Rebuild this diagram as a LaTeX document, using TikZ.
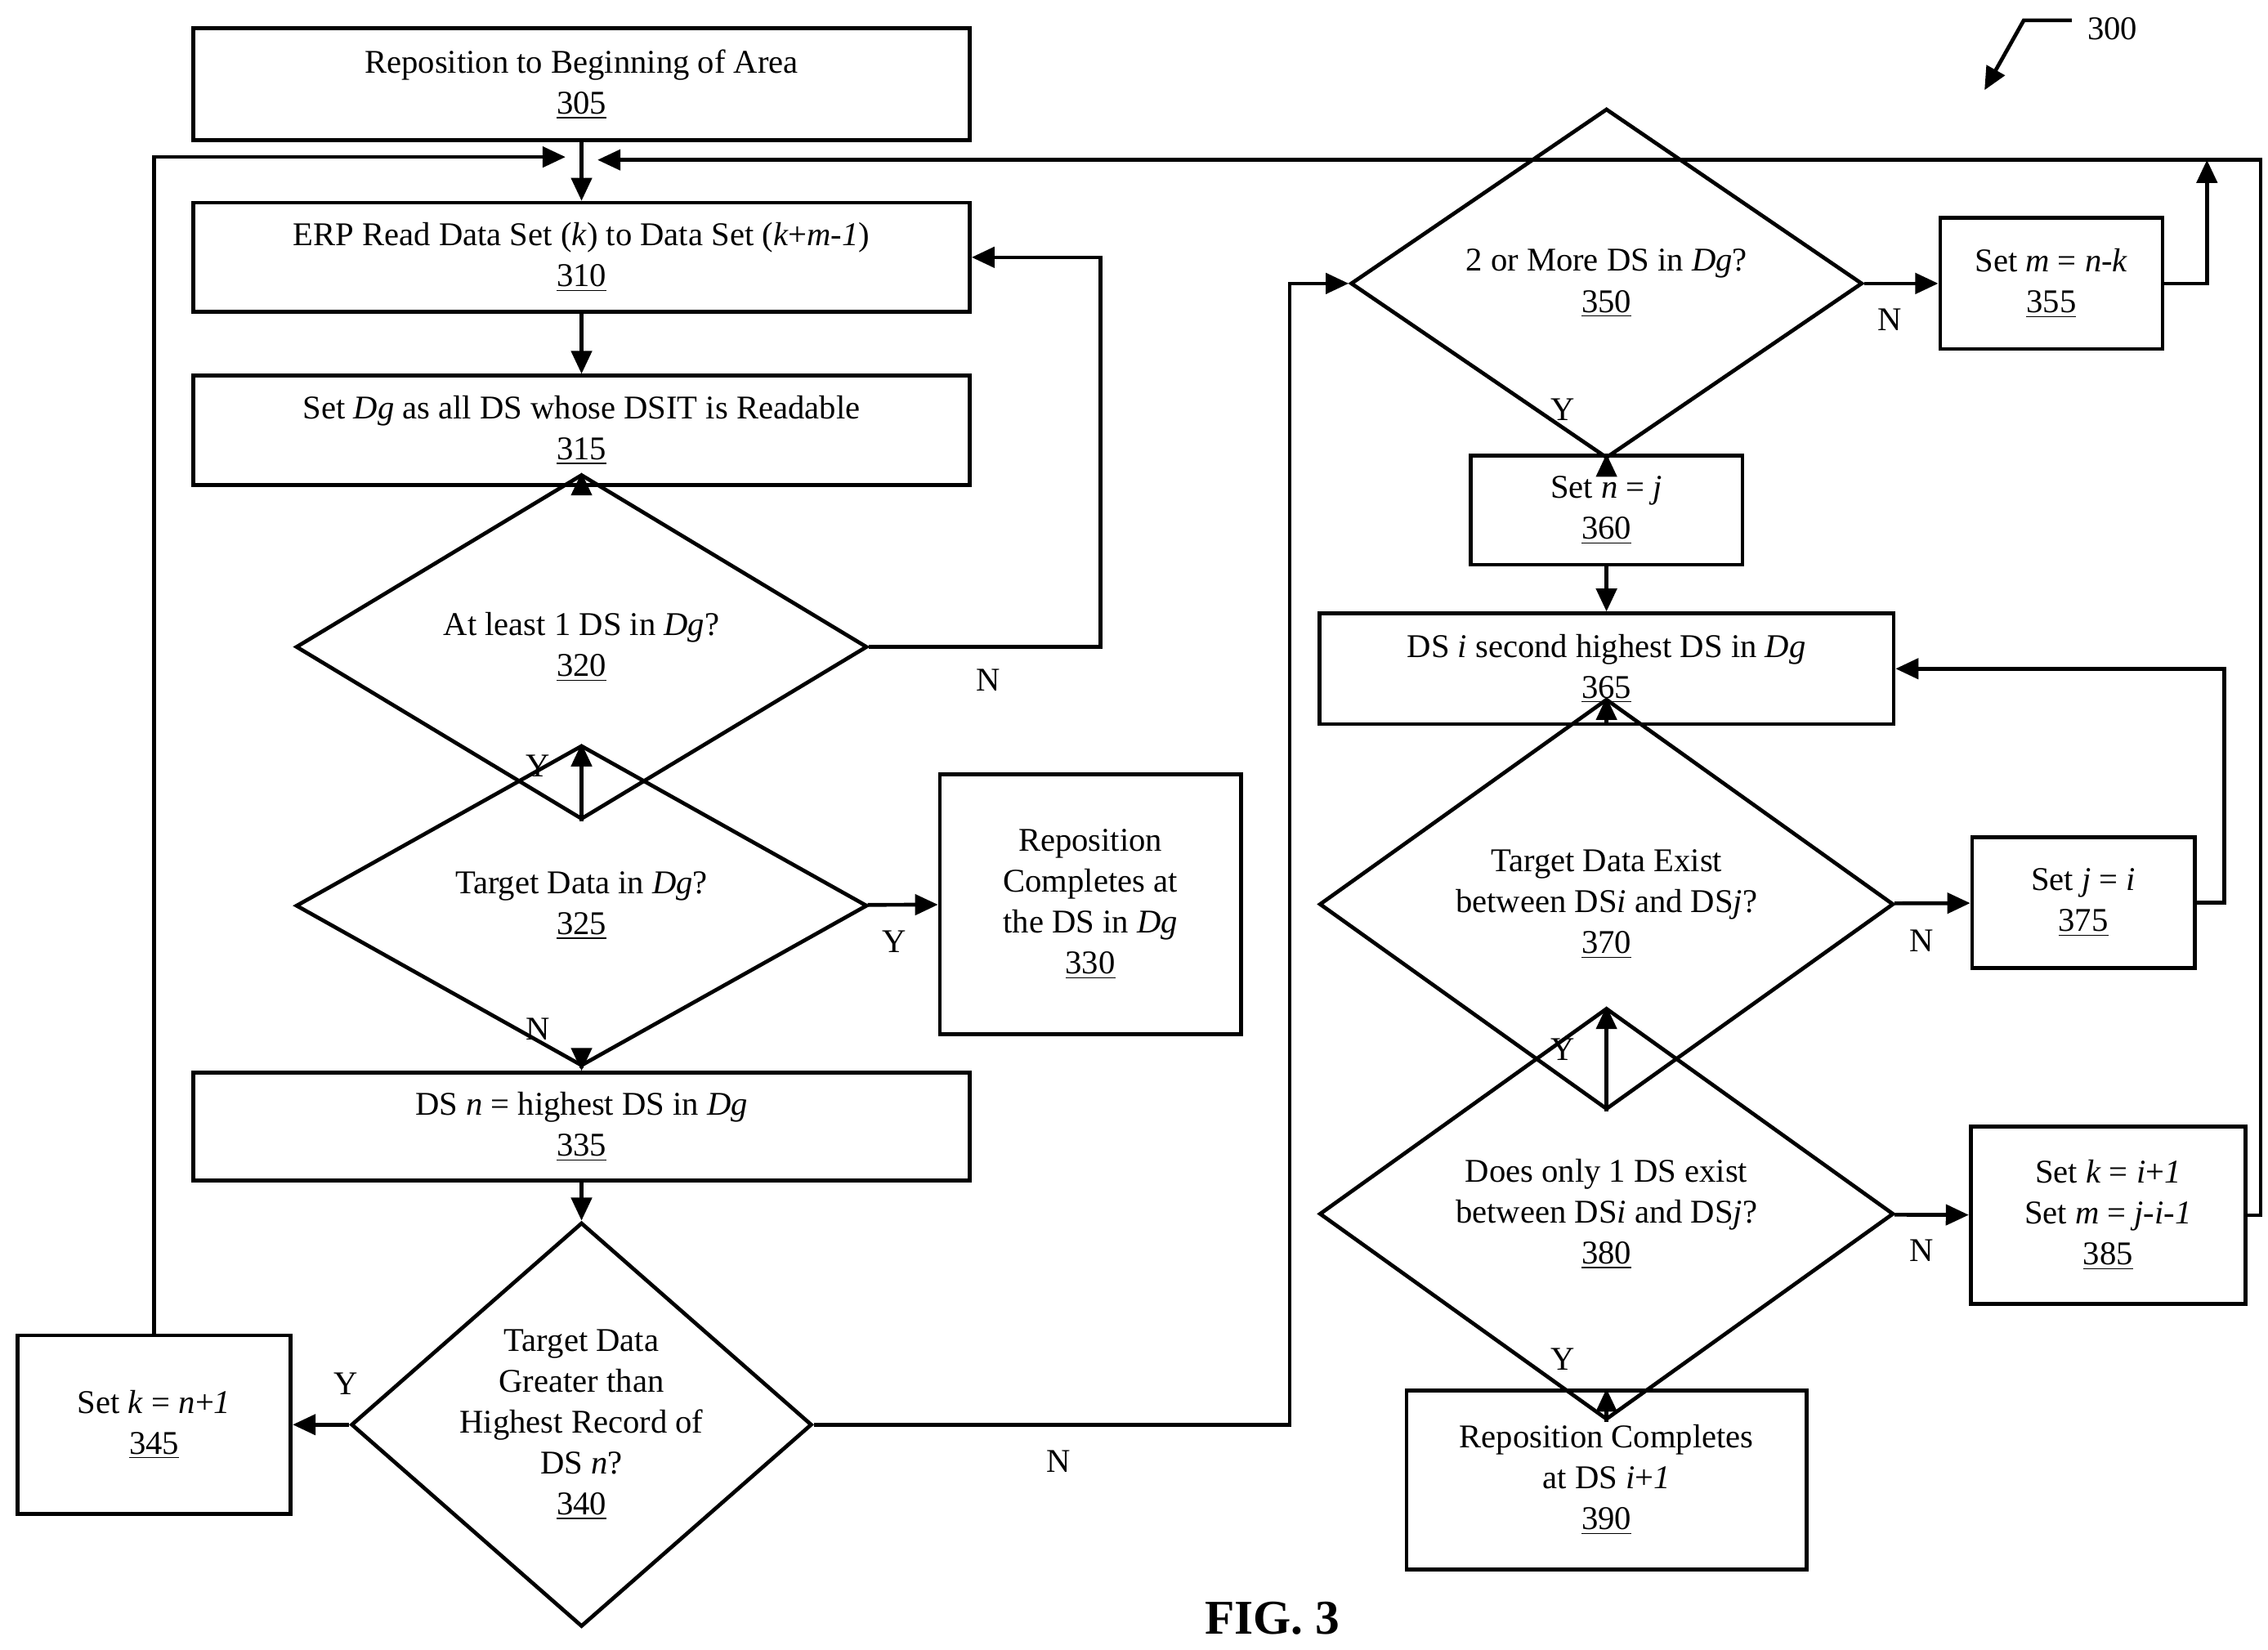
\documentclass[tikz,border=0pt]{standalone}
\usepackage{fontspec}
\setmainfont{Liberation Serif}
\usetikzlibrary{shapes.geometric,arrows.meta}
\newcommand{\num}[1]{\underline{#1}}
\begin{document}
\begin{tikzpicture}[x=0.02cm,y=-0.02cm,line width=1.5pt,>={Triangle[length=9pt,width=8pt]},
    font=\fontsize{13}{16}\selectfont]
    \tikzstyle{box}=[draw,rectangle,align=center,inner sep=0pt]
    \tikzstyle{test}=[draw,diamond,align=center,inner sep=0pt]
    \tikzstyle{lbl}=[inner sep=1pt]

    \useasboundingbox (0,0) rectangle (1560,1135);

    \node[box,minimum width=534*0.02cm,minimum height=77*0.02cm] (S305) at (400,58) {Reposition to Beginning of Area\\\num{305}};
    \node[box,minimum width=534*0.02cm,minimum height=75*0.02cm] (S310) at (400,177) {ERP Read Data Set (\textit{k}) to Data Set (\textit{k}+\textit{m-1})\\\num{310}};
    \node[box,minimum width=534*0.02cm,minimum height=75*0.02cm] (S315) at (400,296) {Set \textit{Dg} as all DS whose DSIT is Readable\\\num{315}};
    \node[test,minimum width=393*0.02cm,minimum height=134*0.02cm] (S320) at (400,445) {At least 1 DS in \textit{Dg}?\\\num{320}};
    \node[test,minimum width=393*0.02cm,minimum height=134*0.02cm] (S325) at (400,623) {Target Data in \textit{Dg}?\\\num{325}};
    \node[box,minimum width=207*0.02cm,minimum height=179*0.02cm] (S330) at (750,622) {Reposition\\Completes at\\the DS in \textit{Dg}\\\num{330}};
    \node[box,minimum width=534*0.02cm,minimum height=74*0.02cm] (S335) at (400,775) {DS \textit{n} = highest DS in \textit{Dg}\\\num{335}};
    \node[test,minimum width=274*0.02cm,minimum height=240*0.02cm,aspect=1.14] (S340) at (400,980) {Target Data\\Greater than\\Highest Record of\\DS \textit{n}?\\\num{340}};
    \node[box,minimum width=188*0.02cm,minimum height=123*0.02cm] (S345) at (106,980) {Set \textit{k} = \textit{n}+\textit{1}\\\num{345}};
    \node[test,minimum width=352*0.02cm,minimum height=134*0.02cm] (S350) at (1105,195) {2 or More DS in \textit{Dg}?\\\num{350}};
    \node[box,minimum width=153*0.02cm,minimum height=90*0.02cm] (S355) at (1411,195) {Set \textit{m} = \textit{n-k}\\\num{355}};
    \node[box,minimum width=187*0.02cm,minimum height=75*0.02cm] (S360) at (1105,351) {Set \textit{n} = \textit{j}\\\num{360}};
    \node[box,minimum width=395*0.02cm,minimum height=76*0.02cm] (S365) at (1105,460) {DS \textit{i} second highest DS in \textit{Dg}\\\num{365}};
    \node[test,minimum width=395*0.02cm,minimum height=179*0.02cm] (S370) at (1105,622) {Target Data Exist\\between DS\textit{i} and DS\textit{j}?\\\num{370}};
    \node[box,minimum width=153*0.02cm,minimum height=90*0.02cm] (S375) at (1433,621) {Set \textit{j} = \textit{i}\\\num{375}};
    \node[test,minimum width=395*0.02cm,minimum height=180*0.02cm] (S380) at (1105,835) {Does only 1 DS exist\\between DS\textit{i} and DS\textit{j}?\\\num{380}};
    \node[box,minimum width=189*0.02cm,minimum height=122*0.02cm] (S385) at (1450,836) {Set \textit{k} = \textit{i}+\textit{1}\\Set \textit{m} = \textit{j-i-1}\\\num{385}};
    \node[box,minimum width=275*0.02cm,minimum height=123*0.02cm] (S390) at (1105,1018) {Reposition Completes\\at DS \textit{i}+\textit{1}\\\num{390}};

    \node[font=\fontsize{19}{22}\selectfont\bfseries] (fig) at (875,1113) {FIG. 3};
    \node[lbl] (ref) at (1453,20) {300};

    % main column
    \draw[->] (S305) -- (S310);
    \draw[->] (S310) -- (S315);
    \draw[->] (S315) -- (S320);
    \draw[->] (S320.east) -- (757,445) -- (757,177) -- (S310.east);
    \draw[->] (S320) -- (S325);
    \draw[->] (S325) -- (S330);
    \draw[->] (S325) -- (S335);
    \draw[->] (S335) -- (S340);
    \draw[->] (S340) -- (S345);
    \draw[->] (S345.north) -- (106,108) -- (389,108);
    \draw[->] (S340.east) -- (887,980) -- (887,195) -- (S350.west);

    % right column
    \draw[->] (S350) -- (S355);
    \draw[->] (S355.east) -- (1518,195) -- (1518,110);
    \draw[->] (S385.east) -- (1555,836) -- (1555,110) -- (411,110);
    \draw[->] (S350) -- (S360);
    \draw[->] (S360) -- (S365);
    \draw[->] (S365) -- (S370);
    \draw[->] (S370) -- (S375);
    \draw[->] (S375.east) -- (1530,621) -- (1530,460) -- (S365.east);
    \draw[->] (S370) -- (S380);
    \draw[->] (S380) -- (S385);
    \draw[->] (S380) -- (S390);

    % branch labels
    \node[lbl] at (680,468) {N};
    \node[lbl] at (370,527) {Y};
    \node[lbl] at (615,648) {Y};
    \node[lbl] at (370,708) {N};
    \node[lbl] at (238,952) {Y};
    \node[lbl] at (728,1005) {N};
    \node[lbl] at (1300,220) {N};
    \node[lbl] at (1075,282) {Y};
    \node[lbl] at (1322,647) {N};
    \node[lbl] at (1075,722) {Y};
    \node[lbl] at (1322,860) {N};
    \node[lbl] at (1075,935) {Y};

    \draw[->] (1425,14) -- (1392,14) -- (1365,62);
\end{tikzpicture}
\end{document}
